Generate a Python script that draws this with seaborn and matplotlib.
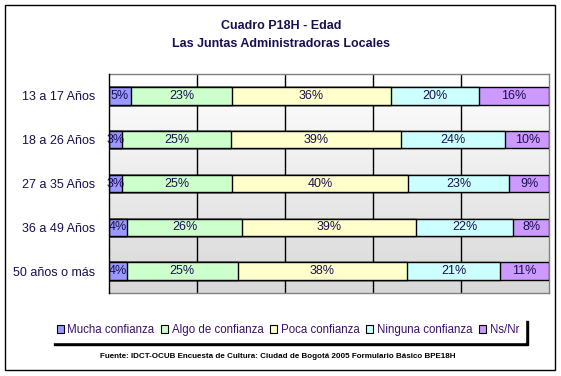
import numpy as np
import pandas as pd
import matplotlib
matplotlib.use("Agg")
import matplotlib.pyplot as plt
from matplotlib.patches import Rectangle, Patch
from matplotlib.colors import LinearSegmentedColormap
import seaborn as sns

categories = ["13 a 17 Años", "18 a 26 Años", "27 a 35 Años", "36 a 49 Años", "50 años o más"]
series = ["Mucha confianza", "Algo de confianza", "Poca confianza", "Ninguna confianza", "Ns/Nr"]
mucha = [5, 3, 3, 4, 4]
algo = [23, 25, 25, 26, 25]
poca = [36, 39, 40, 39, 38]
ninguna = [20, 24, 23, 22, 21]
nsnr = [16, 10, 9, 8, 11]
colors = ["#9999FF", "#CCFFCC", "#FFFFCC", "#CCFFFF", "#CC99FF"]
title1 = "Cuadro P18H - Edad"
title2 = "Las Juntas Administradoras Locales"
source = "Fuente: IDCT-OCUB Encuesta de Cultura: Ciudad de Bogotá 2005 Formulario Básico BPE18H"

sns.set_style("white")
plt.rcParams["font.family"] = ["Liberation Sans", "DejaVu Sans"]
txtcol = "#1A0F50"

vals = np.array([mucha, algo, poca, ninguna, nsnr], dtype=float)  # series x categories
pct = vals / vals.sum(axis=0) * 100.0
cum = np.cumsum(pct, axis=0)
lefts = cum - pct

W, H = 561, 376
fig = plt.figure(figsize=(W / 100, H / 100), dpi=100)
ax = fig.add_axes([109 / W, 1 - 293 / H, 440 / W, (293 - 74) / H])

# gradient background
cmap = LinearSegmentedColormap.from_list("bg", ["#FFFFFF", "#D8D8D8"])
ax.imshow(np.linspace(0, 1, 256).reshape(-1, 1), extent=[0, 1, 0, 1], transform=ax.transAxes,
          cmap=cmap, aspect="auto", zorder=0)

for k in range(len(series) - 1, -1, -1):
    df = pd.DataFrame({"cat": categories, "val": cum[k]})
    sns.barplot(data=df, x="val", y="cat", orient="h", color=colors[k], saturation=1,
                edgecolor="black", linewidth=1, width=0.4, ax=ax, zorder=3)

for k in range(len(series)):
    for i in range(len(categories)):
        ax.text(lefts[k, i] + pct[k, i] / 2, i, f"{int(vals[k, i])}%", ha="center", va="center",
                fontsize=9, color=txtcol, zorder=5)

ax.set_xlim(0, 100)
ax.set_ylim(4.5, -0.5)
ax.set_xticks([20, 40, 60, 80])
ax.set_xticklabels([])
ax.xaxis.grid(True, color="black", linewidth=1, zorder=1)
ax.set_axisbelow(True)
ax.tick_params(axis="x", length=0)
ax.set_xlabel("")
ax.set_ylabel("")
ax.set_yticks(range(len(categories)))
ax.set_yticklabels(categories, fontsize=9, color=txtcol)
ax.tick_params(axis="y", which="major", length=0, pad=10)
ax.set_yticks(np.arange(-0.5, len(categories), 1.0), minor=True)
ax.tick_params(axis="y", which="minor", length=4, width=1, color="black", direction="out")
for s in ["top", "right", "bottom"]:
    ax.spines[s].set_color("#808080")
    ax.spines[s].set_linewidth(1)
ax.spines["left"].set_color("black")
ax.spines["left"].set_linewidth(1)
ax.spines["left"].set_zorder(6)

# titles
fig.text(281 / W, 1 - 26 / H, title1, ha="center", va="center", fontsize=9, fontweight="bold", color=txtcol)
fig.text(281 / W, 1 - 44 / H, title2, ha="center", va="center", fontsize=9, fontweight="bold", color=txtcol)

# legend
handles = [Patch(facecolor=c, edgecolor="black", linewidth=0.8) for c in colors]
leg = fig.legend(handles, series, loc="center", bbox_to_anchor=(288 / W, 1 - 330 / H), ncol=5,
                 frameon=True, fancybox=False, shadow={"color": "black", "alpha": 1},
                 fontsize=8.3, handlelength=0.6, handleheight=0.6, handletextpad=0.3,
                 columnspacing=0.6, borderpad=0.5, labelcolor="#3A1070")
leg.get_frame().set_edgecolor("white")
leg.get_frame().set_facecolor("white")

fig.text(278 / W, 1 - 357 / H, source, ha="center", va="center", fontsize=5.8, fontweight="bold", color="black")

fig.patches.append(Rectangle((5 / W, 1 - 370 / H), 550 / W, 365 / H, transform=fig.transFigure,
                             fill=False, edgecolor="black", linewidth=1))

fig.savefig("out.png", dpi=100)
